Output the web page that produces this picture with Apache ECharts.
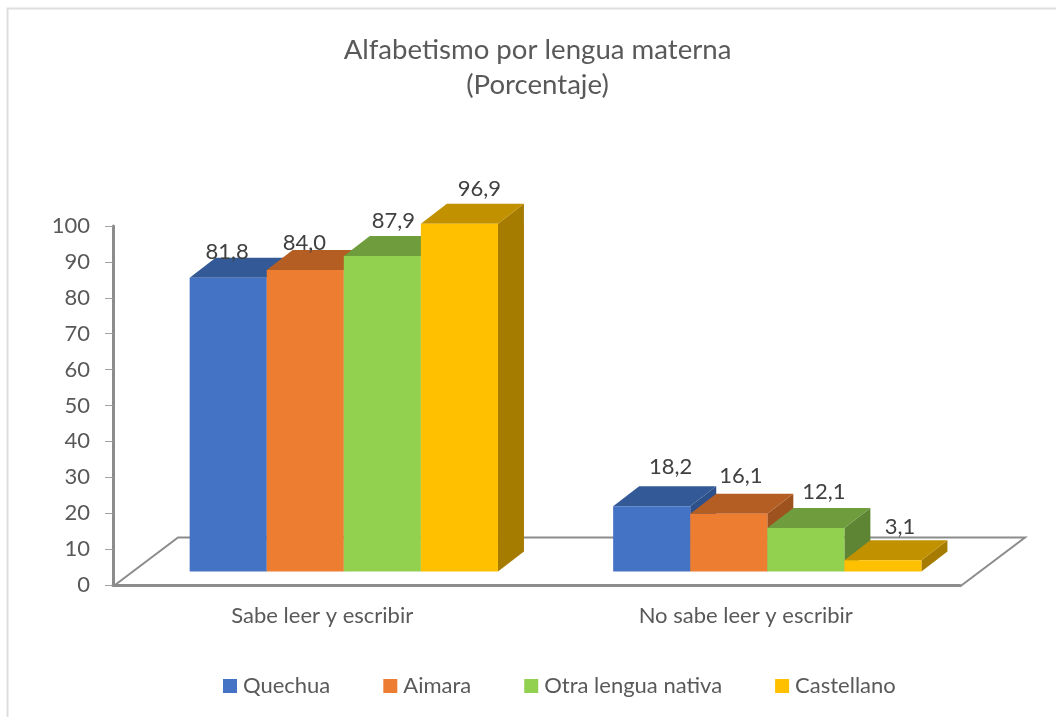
<!DOCTYPE html>
<html>
<head>
<meta charset="utf-8">
<title>Alfabetismo por lengua materna</title>
<script src="https://cdn.jsdelivr.net/npm/echarts@6/dist/echarts.min.js"></script>
<style>
  html, body { margin: 0; padding: 0; background: #fff; }
  #chart { width: 1056px; height: 717px; }
</style>
</head>
<body>
<div id="chart"></div>
<script>
  const categories = ['Sabe leer y escribir', 'No sabe leer y escribir']
  const seriesNames = ['Quechua', 'Aimara', 'Otra lengua nativa', 'Castellano']
  const quechua = [81.8, 18.2]
  const aimara = [84.0, 16.1]
  const otra = [87.9, 12.1]
  const castellano = [96.9, 3.1]
  const values = [quechua, aimara, otra, castellano]

  // front, top and side colour of each language
  const front = ['#4472C4', '#ED7D31', '#92D050', '#FFC000']
  const topFace = ['#335A96', '#B55E23', '#6F9C3D', '#C29100']
  const sideFace = ['#2D4F8A', '#9E521E', '#5E8534', '#A67C00']

  // where Excel left each data label, relative to the middle of the bar front
  const labelNudge = [
    [[-1, -26], [19, -39]],
    [[-1, -27], [12, -38]],
    [[11, -35], [18, -36]],
    [[20, -35], [17, -33]]
  ]

  const FONT = 'Lato'
  const DEPTH_X = 26
  const DEPTH_Y = 20
  const FLOOR_LIFT = 13.5

  const renderBar = (s) => (params, api) => {
    const cat = api.value(0)
    const val = api.value(1)
    const base = api.coord([cat, 0])
    const band = api.size([1, 0])[0]
    const w = band * 0.182
    const x0 = base[0] + band * 0.045 - 2 * w + s * w
    const x1 = x0 + w
    const yb = base[1] - FLOOR_LIFT
    const yt = api.coord([cat, val])[1] - FLOOR_LIFT
    const nudge = labelNudge[s][cat]
    return {
      type: 'group',
      children: [
        {
          type: 'polygon',
          shape: { points: [[x1, yt], [x1 + DEPTH_X, yt - DEPTH_Y], [x1 + DEPTH_X, yb - DEPTH_Y], [x1, yb]] },
          style: { fill: sideFace[s] }
        },
        {
          type: 'polygon',
          shape: { points: [[x0, yt], [x0 + DEPTH_X, yt - DEPTH_Y], [x1 + DEPTH_X, yt - DEPTH_Y], [x1, yt]] },
          style: { fill: topFace[s] }
        },
        {
          type: 'rect',
          shape: { x: x0, y: yt, width: w, height: yb - yt },
          style: { fill: front[s] }
        },
        {
          type: 'text',
          z2: 100,
          style: {
            text: val.toFixed(1).replace('.', ','),
            x: (x0 + x1) / 2 + nudge[0],
            y: yt + nudge[1],
            align: 'center',
            verticalAlign: 'middle',
            fill: '#404040',
            font: '22px ' + FONT
          }
        }
      ]
    }
  }

  const renderFloor = (params, api) => {
    const a = api.coord([0, 0])
    const band = api.size([1, 0])[0]
    const left = a[0] - band / 2
    const right = left + band * 2
    const y = a[1] + 1.5
    return {
      type: 'polyline',
      shape: { points: [[left, y], [left + 65, y - 49], [right + 65, y - 49], [right, y]] },
      style: { fill: 'none', stroke: '#8C8C8C', lineWidth: 2 }
    }
  }

  const barSeries = seriesNames.map((name, s) => ({
    name: name,
    type: 'custom',
    renderItem: renderBar(s),
    itemStyle: { color: front[s] },
    encode: { x: 0, y: 1 },
    data: values[s].map((v, i) => [i, v])
  }))

  const chart = echarts.init(document.getElementById('chart'), null, { renderer: 'canvas' })

  chart.setOption({
    animation: false,
    backgroundColor: '#fff',
    graphic: [
      {
        type: 'polyline',
        shape: { points: [[7.5, 717], [7.5, 8.5], [1056, 8.5]] },
        style: { fill: 'none', stroke: '#DEDEDE', lineWidth: 2 }
      }
    ],
    title: {
      text: 'Alfabetismo por lengua materna\n(Porcentaje)',
      left: 532.5,
      top: 28,
      textAlign: 'center',
      textStyle: {
        fontFamily: FONT,
        fontSize: 27.6,
        fontWeight: 'normal',
        color: '#595959',
        lineHeight: 35
      }
    },
    legend: {
      left: 223,
      top: 675,
      padding: 0,
      itemWidth: 14,
      itemHeight: 14,
      itemGap: 53,
      icon: 'rect',
      data: seriesNames,
      textStyle: {
        fontFamily: FONT,
        fontSize: 22,
        color: '#595959',
        padding: [0, 0, 0, 1]
      }
    },
    grid: { left: 113, right: 96, top: 226, bottom: 132 },
    xAxis: {
      type: 'category',
      data: categories,
      axisTick: { show: false },
      axisLine: { lineStyle: { color: '#8C8C8C', width: 3 } },
      axisLabel: { fontFamily: FONT, fontSize: 22, color: '#595959', margin: 20, padding: [0, 5, 0, 0] }
    },
    yAxis: {
      type: 'value',
      min: 0,
      max: 100,
      interval: 10,
      splitLine: { show: false },
      axisLine: { show: true, lineStyle: { color: '#8C8C8C', width: 3 } },
      axisTick: { show: true, length: 8, lineStyle: { color: '#A0A0A0', width: 1 } },
      axisLabel: { fontFamily: FONT, fontSize: 22, color: '#595959', margin: 23, padding: [2, 0, 0, 0] }
    },
    series: [
      {
        name: 'piso',
        type: 'custom',
        silent: true,
        renderItem: renderFloor,
        encode: { x: 0, y: 1 },
        data: [[0, 0]]
      }
    ].concat(barSeries)
  })

  window.addEventListener('resize', function () {
    chart.resize()
  })
</script>
</body>
</html>
